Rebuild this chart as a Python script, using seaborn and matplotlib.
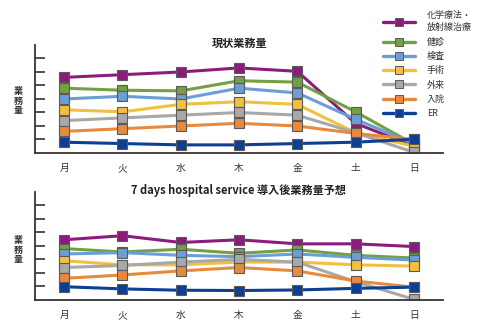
import matplotlib
matplotlib.use("Agg")
import matplotlib.pyplot as plt
import pandas as pd
import seaborn as sns
from matplotlib.lines import Line2D

sns.set_style("white")
plt.rcParams["font.family"] = ["Noto Sans CJK JP", "DejaVu Sans"]

days = ["月", "火", "水", "木", "金", "土", "日"]
series = ["化学療法・\n放射線治療", "健診", "検査", "手術", "外来", "入院", "ER"]
colors = ["#8C1C7C", "#72A043", "#6A9ED4", "#F2C040", "#A8A8A8", "#E88A3E", "#0D3F94"]

# current workload by weekday
current_chemo = [5.6, 5.8, 6.0, 6.3, 6.05, 2.2, 0.5]
current_checkup = [4.8, 4.65, 4.6, 5.35, 5.25, 3.05, 0.65]
current_exam = [4.0, 4.2, 4.0, 4.8, 4.45, 2.5, 0.7]
current_surgery = [3.2, 3.05, 3.6, 3.8, 3.6, 1.5, 0.5]
current_outpatient = [2.4, 2.6, 2.8, 3.0, 2.8, 1.5, 0.05]
current_inpatient = [1.6, 1.8, 2.0, 2.2, 2.0, 1.45, 1.0]
current_er = [0.8, 0.7, 0.6, 0.6, 0.7, 0.8, 1.02]

# projected workload after 7 days hospital service
after_chemo = [4.45, 4.75, 4.25, 4.45, 4.15, 4.15, 3.95]
after_checkup = [3.8, 3.55, 3.75, 3.45, 3.7, 3.3, 3.1]
after_exam = [3.4, 3.5, 3.3, 3.2, 3.4, 3.15, 2.95]
after_surgery = [2.9, 2.6, 2.6, 2.8, 2.8, 2.6, 2.5]
after_outpatient = [2.4, 2.55, 2.8, 3.0, 2.8, 1.35, 0.05]
after_inpatient = [1.6, 1.85, 2.15, 2.4, 2.15, 1.4, 0.95]
after_er = [0.98, 0.82, 0.72, 0.7, 0.74, 0.86, 0.95]

current = [current_chemo, current_checkup, current_exam, current_surgery,
           current_outpatient, current_inpatient, current_er]
after = [after_chemo, after_checkup, after_exam, after_surgery,
         after_outpatient, after_inpatient, after_er]

AXIS_COLOR = "#3a3232"
EDGE = "#5a5a5a"


def panel_frame(values):
    rows = []
    for name, vals in zip(series, values):
        for i, v in enumerate(vals):
            rows.append({"day": i, "series": name, "value": v})
    return pd.DataFrame(rows)


def draw_panel(ax, values):
    df = panel_frame(values)
    sns.lineplot(data=df, x="day", y="value", hue="series", hue_order=series,
                 palette=colors, style="series", style_order=series,
                 markers=["s"] * len(series), dashes=False, sort=False,
                 linewidth=2.2, markersize=7, markeredgecolor=EDGE,
                 markeredgewidth=0.8, legend=False, ax=ax)
    ax.set_xlim(-0.5, len(days) - 0.5)
    ax.set_ylim(0, 8)
    ax.set_xticks(range(len(days)))
    ax.set_xticklabels(days, fontsize=7, color="#333333")
    ax.set_xticks([i + 0.5 for i in range(len(days))], minor=True)
    ax.tick_params(axis="x", which="major", length=0, pad=7)
    ax.tick_params(axis="x", which="minor", direction="in", length=2,
                   width=1, color=AXIS_COLOR)
    ax.set_yticks(range(1, 8))
    ax.set_yticklabels([])
    ax.tick_params(axis="y", which="major", direction="in", length=7.5,
                   width=1.2, color=AXIS_COLOR, left=True)
    ax.set_xlabel("")
    ax.set_ylabel("")
    for side in ("top", "right"):
        ax.spines[side].set_visible(False)
    for side in ("left", "bottom"):
        ax.spines[side].set_color(AXIS_COLOR)
        ax.spines[side].set_linewidth(1.3)


fig = plt.figure(figsize=(4.8, 3.26), dpi=100)
ax_top = fig.add_axes([0.0729, 0.5307, 0.85, 0.3313])
ax_bot = fig.add_axes([0.0729, 0.0798, 0.85, 0.332])

draw_panel(ax_top, current)
draw_panel(ax_bot, after)

fig.text(0.5, 0.868, "現状業務量", ha="center", va="center",
         fontsize=8, fontweight="bold", color="#222222")
fig.text(0.496, 0.415, "7 days hospital service 導入後業務量予想",
         ha="center", va="center", fontsize=8, fontweight="bold",
         color="#222222")

for y in (0.69, 0.233):
    fig.text(0.0375, y, "業\n務\n量", ha="center", va="center",
             fontsize=6.5, fontweight="bold", color="#333333",
             linespacing=1.05)

handles = [Line2D([], [], color=c, linewidth=2.4, marker="s", markersize=5.5,
                  markeredgecolor=EDGE, markeredgewidth=0.7)
           for c in colors]
leg = fig.legend(handles, series, loc="upper left",
                 bbox_to_anchor=(0.798, 0.966), frameon=False, fontsize=6.5,
                 handlelength=3.5, handletextpad=1.35, labelspacing=0.58,
                 borderpad=0, borderaxespad=0)
for t in leg.get_texts():
    t.set_color("#333333")
    t.set_linespacing(1.45)

fig.savefig("out.png", dpi=100)
